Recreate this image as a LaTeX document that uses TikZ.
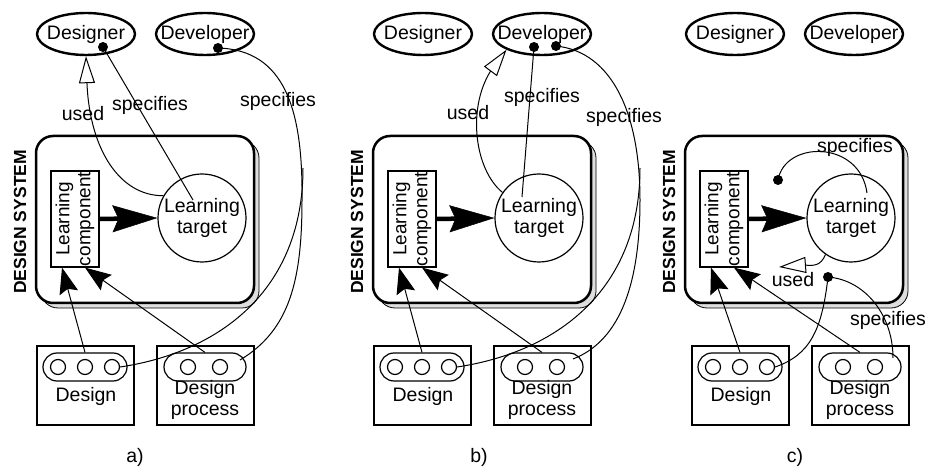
\documentclass[tikz,border=0pt]{standalone}
\usepackage{fontspec}
\setmainfont{Liberation Sans}
\usetikzlibrary{arrows.meta,shapes.geometric,shapes.misc}

\tikzset{
  lbl/.style={font=\fontsize{19.5}{21}\selectfont, inner sep=0pt},
  actor/.style={ellipse, draw, line width=2.4pt, minimum width=98pt, minimum height=42pt,
    inner xsep=-11pt, inner ysep=0pt, font=\fontsize{19.5}{21}\selectfont},
  sysbox/.style={draw, fill=white, line width=2.5pt, rounded corners=17pt,
    minimum width=218pt, minimum height=167pt},
  sysshadow/.style={draw, line width=0.8pt, fill=black!13, rounded corners=17pt,
    minimum width=218pt, minimum height=167pt},
  syslabel/.style={rotate=90, inner sep=0pt, font=\fontsize{17.5}{20}\selectfont\bfseries},
  lcomp/.style={draw, line width=1.2pt, rotate=90, minimum width=96pt, minimum height=48pt,
    inner sep=0pt, align=center, font=\fontsize{19}{21}\selectfont},
  target/.style={circle, draw, line width=1.2pt, minimum size=88pt, inner sep=0pt,
    align=center, font=\fontsize{19.5}{21}\selectfont},
  artbox/.style={draw, line width=2.5pt, minimum width=97pt, minimum height=79pt},
  pill/.style={rounded rectangle, draw, line width=1.2pt, minimum height=28pt, inner sep=0pt},
  slot/.style={circle, draw, line width=1.2pt, minimum size=15pt, inner sep=0pt},
  dot/.style={circle, fill, inner sep=0pt, minimum size=10pt},
  conn/.style={line width=1pt},
  usedtip/.style={-{Triangle[length=27pt,width=16pt,fill=white]}},
  feed/.style={-{Stealth[length=26pt,width=19pt,inset=4pt]}},
  mainflow/.style={line width=4.5pt, -{Stealth[length=45pt,width=27pt,inset=6pt,line width=0.5pt]}}
}

% #1 name prefix, #2 extra shift of the two artefact boxes
\newcommand\designpanel[2]{%
  \node[actor] (#1dsr) at (86,34) {Designer};
  \node[actor] (#1dev) at (205,34) {Developer};
  \node[syslabel] (#1lbl) at (20,222) {DESIGN SYSTEM};
  \node[sysshadow] (#1shd) at (150,224.5) {};
  \node[sysbox] (#1sys) at (145,219.5) {};
  \node[lcomp] (#1lc) at (75,219) {Learning\\component};
  \node[target] (#1tgt) at (202,218) {Learning\\target};
  \draw[mainflow] (#1lc.south) -- (#1tgt.west);
  \begin{scope}[xshift=#2]
    \node[artbox] (#1dbox) at (85.5,385.5) {};
    \node[pill, minimum width=84pt] (#1dp) at (85,367) {};
    \node[slot] (#1ds1) at (58,367) {};
    \node[slot] (#1ds2) at (85,367) {};
    \node[slot] (#1ds3) at (112,367) {};
    \node[lbl] (#1dtxt) at (86,396) {Design};
    \node[artbox] (#1pbox) at (205.5,385.5) {};
    \node[pill, minimum width=82pt] (#1pp) at (205,367) {};
    \node[slot] (#1ps1) at (188,367) {};
    \node[slot] (#1ps2) at (220,367) {};
    \node[lbl, align=center] (#1ptxt) at (205,400) {Design\\process};
  \end{scope}
  \draw[conn, feed] (#1dp.north) -- ([xshift=-13pt]#1lc.west);
  \draw[conn, feed] (#1pp.north) -- ([xshift=10pt]#1lc.west);
}

\begin{document}
\begin{tikzpicture}[x=1pt, y=-1pt]
\useasboundingbox (0,0) rectangle (927,470);

% ---------- a) designer and developer specify from outside ----------
\begin{scope}
  \designpanel{a-}{0pt}
  \node[dot] (a-k1) at (103,47) {};
  \node[dot] (a-k2) at (218,48) {};
  \coordinate (a-spin) at (193,200);
  \draw[conn] (a-k1.center) -- (a-spin);
  \coordinate (a-ub) at (87,84);
  \draw[conn, usedtip] (a-tgt.150) .. controls (120,196) and (90,150) .. (a-ub) -- (a-dsr.south);
  \coordinate (a-pin) at (240,360);
  \coordinate (a-fork) at (303,168);
  \draw[conn] (a-k2.center) .. controls (285,50) and (303,110) .. (302,200)
              .. controls (302,280) and (290,330) .. (a-pin);
  \draw[conn] (a-ds3.east) .. controls (220,352) and (303,290) .. (a-fork);
  \node[lbl] (a-used) at (83,114) {used};
  \node[lbl] (a-spec1) at (150,105) {specifies};
  \node[lbl] (a-spec2) at (278,101) {specifies};
  \node[lbl] (a-cap) at (135,457) {a)};
\end{scope}

% ---------- b) the developer specifies and uses ----------
\begin{scope}[xshift=337pt]
  \designpanel{b-}{0pt}
  \node[dot] (b-k1) at (197,47) {};
  \node[dot] (b-k2) at (219,46) {};
  \coordinate (b-spin) at (185,197);
  \draw[conn] (b-k1.center) -- (b-spin);
  \coordinate (b-ub) at (153,72);
  \draw[conn, usedtip] (b-tgt.145) .. controls (138,170) and (130,110) .. (b-ub) -- (b-dev.south west);
  \coordinate (b-pin) at (236,359);
  \coordinate (b-fork) at (303,168);
  \draw[conn] (b-k2.center) .. controls (276,52) and (303,115) .. (303,200)
              .. controls (303,280) and (285,340) .. (b-pin);
  \draw[conn] (b-ds3.east) .. controls (220,352) and (303,290) .. (b-fork);
  \node[lbl] (b-used) at (131,113) {used};
  \node[lbl] (b-spec1) at (205,97) {specifies};
  \node[lbl] (b-spec2) at (287,117) {specifies};
  \node[lbl] (b-cap) at (142,457) {b)};
\end{scope}

% ---------- c) specification and use inside the system ----------
\begin{scope}[xshift=649pt]
  \designpanel{c-}{6pt}
  \node[dot] (c-k1) at (129,180) {};
  \coordinate (c-spin) at (218,193);
  \draw[conn] (c-spin) .. controls (211,140) and (136,140) .. (c-k1.center);
  \coordinate (c-ub) at (156,265);
  \coordinate (c-ut) at (130,267);
  \draw[conn, usedtip] (c-tgt.235) .. controls (172,266) and (164,266) .. (c-ub) -- (c-ut);
  \node[dot] (c-k2) at (179,277) {};
  \coordinate (c-pin) at (244,358);
  \draw[conn] (c-k2.center) .. controls (216,280) and (244,315) .. (c-pin);
  \draw[conn] (c-k2.center) .. controls (173,330) and (161,355) .. (c-ds3.east);
  \node[lbl] (c-spec1) at (206,147) {specifies};
  \node[lbl] (c-used) at (144,280) {used};
  \node[lbl] (c-spec2) at (239,320) {specifies};
  \node[lbl] (c-cap) at (146,457) {c)};
\end{scope}
\end{tikzpicture}
\end{document}
